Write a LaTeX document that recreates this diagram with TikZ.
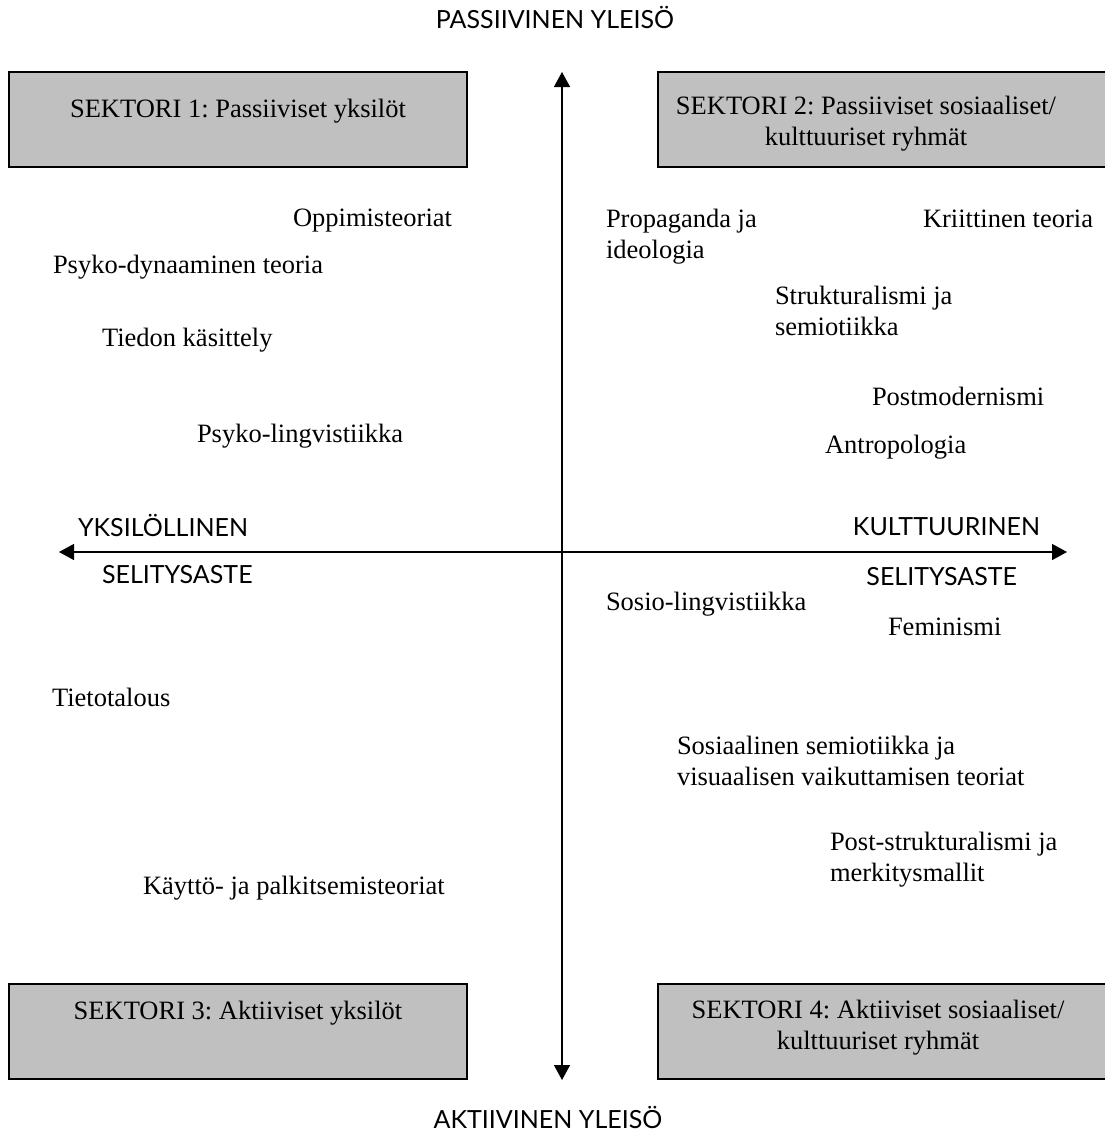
\documentclass[tikz,border=0pt]{standalone}
\usepackage{fontspec}
\setmainfont{Liberation Serif}
\newfontfamily\axisfont{Lato}
\usetikzlibrary{arrows.meta}
\definecolor{sectorgray}{RGB}{192,192,192}
\frenchspacing
% two stacked lines, baseline of the node = baseline of the first line
\newcommand\twoline[2]{\vtop{\hbox{#1}\hbox{#2}}}
\newcommand\twolinec[2]{\vtop{\hbox to 440pt{\hss#1\hss}\hbox to 440pt{\hss#2\hss}}}
\begin{document}
\begin{tikzpicture}[x=1pt,y=-1pt,
  every node/.style={inner sep=0pt, outer sep=0pt},
  bodyfont/.style={font=\fontsize{26.5}{31}\selectfont},
  item/.style={bodyfont, anchor=base west},
  sector/.style={draw=black, line width=1.5pt, fill=sectorgray, anchor=north west},
  sectortext/.style={bodyfont, anchor=base},
  axislabel/.style={font=\axisfont\fontsize{25}{29}\selectfont},
  axisline/.style={line width=1.4pt,
    {Triangle[length=15pt,width=16pt]}-{Triangle[length=15pt,width=16pt]}}]
\useasboundingbox (0,0) rectangle (1104,1140);

% sector boxes
\node[sector, minimum width=458pt, minimum height=95pt] (s1) at (9,72) {};
\node[sector, minimum width=460pt, minimum height=95pt] (s2) at (658,72) {};
\node[sector, minimum width=458pt, minimum height=95pt] (s3) at (9,984) {};
\node[sector, minimum width=460pt, minimum height=95pt] (s4) at (658,984) {};

\node[sectortext] (t1) at (238,117) {SEKTORI 1: Passiiviset yksilöt};
\node[sectortext] (t2) at (866,114) {\twolinec{SEKTORI 2: Passiiviset sosiaaliset/}{kulttuuriset ryhmät}};
\node[sectortext] (t3) at (238,1019) {SEKTORI 3: Aktiiviset yksilöt};
\node[sectortext] (t4) at (878,1018) {\twolinec{SEKTORI 4: Aktiiviset sosiaaliset/}{kulttuuriset ryhmät}};

% axes
\coordinate (top) at (562,72);
\coordinate (bottom) at (562,1080);
\coordinate (left) at (59,552);
\coordinate (right) at (1067,552);
\draw[axisline] (bottom) -- (top);
\draw[axisline] (left) -- (right);

\node[axislabel, anchor=base] (passive) at (555,29) {PASSIIVINEN YLEISÖ};
\node[axislabel, anchor=base] (active) at (548,1128) {AKTIIVINEN YLEISÖ};
\node[axislabel, anchor=base west] (indiv) at (78,536) {YKSILÖLLINEN};
\node[axislabel, anchor=base west] (indivb) at (102,583) {SELITYSASTE};
\node[axislabel, anchor=base east] (cult) at (1040,535) {KULTTUURINEN};
\node[axislabel, anchor=base east] (cultb) at (1017,585) {SELITYSASTE};

% theories, sector 1
\node[item] (oppi) at (293,226) {Oppimisteoriat};
\node[item] (psydyn) at (53,273) {Psyko-dynaaminen teoria};
\node[item] (tiedon) at (102,346) {Tiedon käsittely};
\node[item] (psyling) at (197,442) {Psyko-lingvistiikka};

% theories, sector 2
\node[item] (prop) at (606,227) {\twoline{Propaganda ja}{ideologia}};
\node[item] (krit) at (923,227) {Kriittinen teoria};
\node[item] (strukt) at (775,304) {\twoline{Strukturalismi ja}{semiotiikka}};
\node[item] (postmod) at (872,405) {Postmodernismi};
\node[item] (antro) at (825,453) {Antropologia};

% theories, sectors 3 and 4
\node[item] (sosling) at (606,610) {Sosio-lingvistiikka};
\node[item] (femin) at (888,635) {Feminismi};
\node[item] (tieto) at (52,706) {Tietotalous};
\node[item] (sossem) at (677,754) {\twoline{Sosiaalinen semiotiikka ja}{visuaalisen vaikuttamisen teoriat}};
\node[item] (poststr) at (830,850) {\twoline{Post-strukturalismi ja}{merkitysmallit}};
\node[item] (kaytto) at (143,894) {Käyttö- ja palkitsemisteoriat};
\end{tikzpicture}
\end{document}
